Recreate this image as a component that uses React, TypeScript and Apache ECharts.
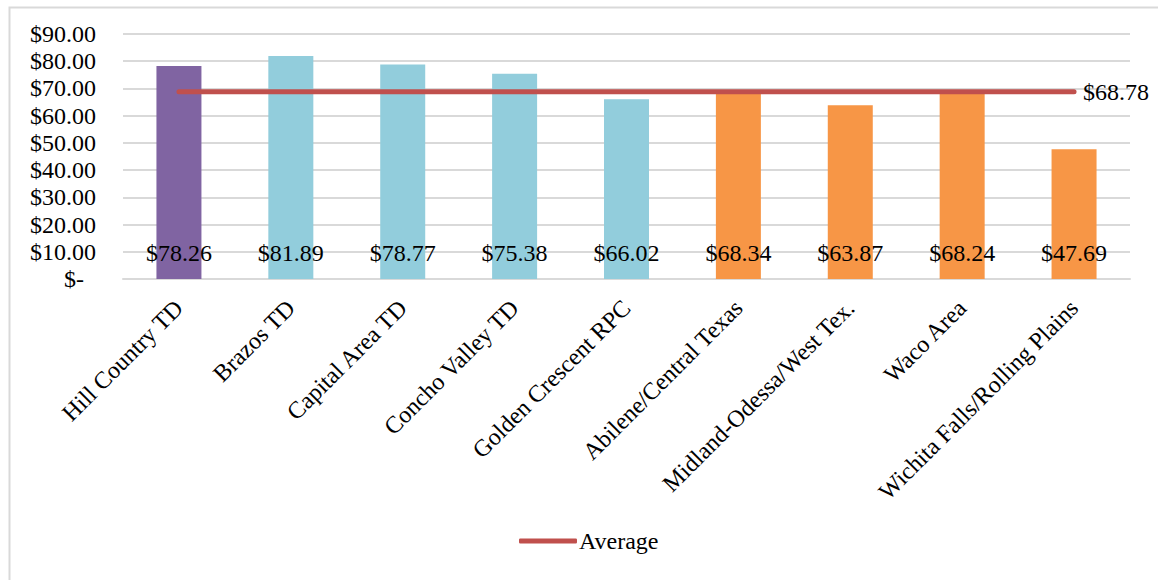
import React, { useEffect, useRef } from "react";
import * as echarts from "echarts";

const categories = [
  "Hill Country TD",
  "Brazos TD",
  "Capital Area TD",
  "Concho Valley TD",
  "Golden Crescent RPC",
  "Abilene/Central Texas",
  "Midland-Odessa/West Tex.",
  "Waco Area",
  "Wichita Falls/Rolling Plains",
];
const values = [78.26, 81.89, 78.77, 75.38, 66.02, 68.34, 63.87, 68.24, 47.69];
const barColors = [
  "#8064A2",
  "#92CDDC",
  "#92CDDC",
  "#92CDDC",
  "#92CDDC",
  "#F79646",
  "#F79646",
  "#F79646",
  "#F79646",
];
const averageValue = 68.78;
const averageData = categories.map(() => averageValue);

const FONT = "Liberation Serif, serif";
const FS = 24;

export default function App() {
  const ref = useRef<HTMLDivElement>(null);
  useEffect(() => {
    document.body.style.margin = "0";
    const chart = echarts.init(ref.current!, null, { renderer: "svg" });
    chart.setOption({
      animation: false,
      backgroundColor: "#ffffff",
      textStyle: { fontFamily: FONT, color: "#000" },
      graphic: [
        {
          type: "rect",
          left: 7,
          top: 5,
          shape: { x: 0, y: 0, width: 1200, height: 620 },
          style: { fill: "none", stroke: "#D9D9D9", lineWidth: 2 },
          silent: true,
        },
      ],
      grid: { left: 123, right: 28, top: 34, bottom: 301, containLabel: false },
      legend: {
        data: ["Average"],
        bottom: 22,
        left: 514,
        itemWidth: 58,
        itemHeight: 5,
        icon: "roundRect",
        textStyle: { fontFamily: FONT, fontSize: FS, color: "#000", padding: [0, 0, 0, -3] },
      },
      xAxis: {
        type: "category",
        data: categories,
        axisLine: { lineStyle: { color: "#D9D9D9", width: 2 } },
        axisTick: { show: false },
        axisLabel: {
          rotate: 45,
          interval: 0,
          margin: 25,
          fontFamily: FONT,
          fontSize: FS,
          color: "#000",
        },
      },
      yAxis: {
        type: "value",
        min: 0,
        max: 90,
        interval: 10,
        axisLine: { show: false },
        axisTick: { show: false },
        splitLine: { lineStyle: { color: "#D9D9D9", width: 2 } },
        axisLabel: {
          margin: 27,
          fontFamily: FONT,
          fontSize: FS,
          color: "#000",
          formatter: (v: number) => (v === 0 ? "{z|$-}" : "$" + v.toFixed(2)),
          rich: {
            z: { fontFamily: FONT, fontSize: FS, color: "#000", padding: [0, 12, 0, 0] },
          },
        },
      },
      series: [
        {
          name: "Cost",
          type: "bar",
          barWidth: 45,
          data: values.map((v, i) => ({ value: v, itemStyle: { color: barColors[i] } })),
          label: {
            show: true,
            position: "insideBottom",
            distance: 14,
            formatter: (p: any) => "$" + p.value.toFixed(2),
            fontFamily: FONT,
            fontSize: FS,
            color: "#000",
          },
          z: 2,
        },
        {
          name: "Average",
          type: "line",
          data: averageData,
          symbol: "none",
          lineStyle: { color: "#C0504D", width: 5, cap: "round" },
          itemStyle: { color: "#C0504D" },
          endLabel: {
            show: true,
            formatter: () => "$" + averageValue.toFixed(2),
            fontFamily: FONT,
            fontSize: FS,
            color: "#000",
            distance: 9,
          },
          z: 3,
        },
      ],
    });
    return () => chart.dispose();
  }, []);
  return <div ref={ref} style={{ width: 1158, height: 580 }} />;
}
